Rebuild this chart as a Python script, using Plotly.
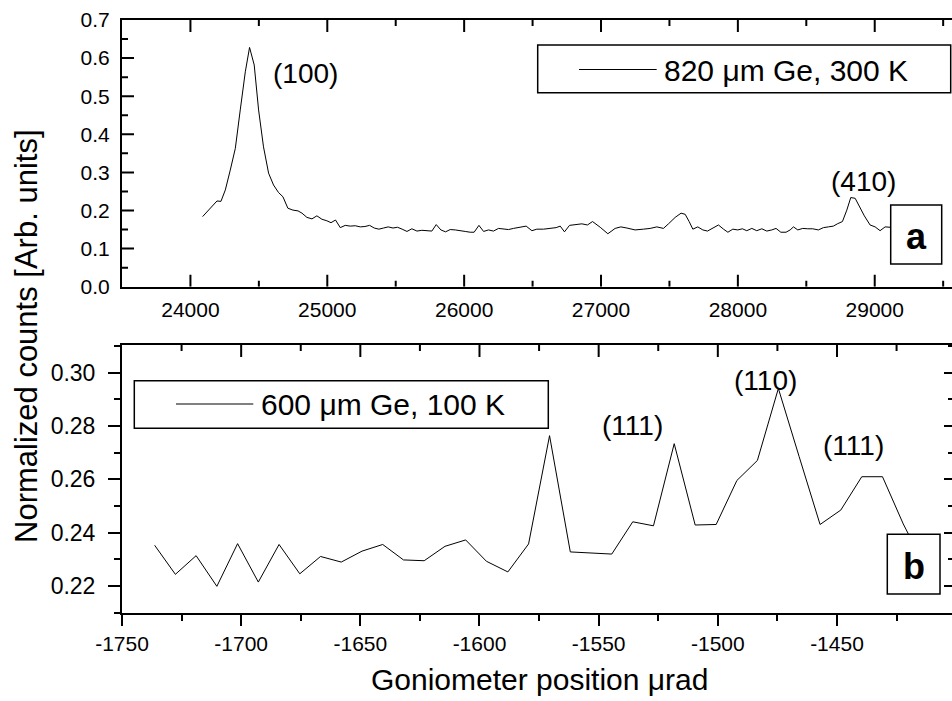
import plotly.graph_objects as go

# ---------------- data ----------------
top_x = [24089, 24145, 24194, 24223, 24255, 24291, 24328, 24364, 24401, 24432,
         24466, 24498, 24534, 24571, 24607, 24644, 24676, 24712, 24749, 24786,
         24815, 24851, 24888, 24924, 24961, 24997, 25027, 25060, 25095, 25131,
         25168, 25204, 25241, 25275, 25309, 25343, 25377, 25411, 25445, 25480,
         25513, 25547, 25582, 25618, 25655, 25691, 25728, 25764, 25796, 25830,
         25864, 25898, 25935, 25971, 26008, 26044, 26073, 26108, 26142, 26178,
         26214, 26251, 26287, 26324, 26360, 26395, 26453, 26495, 26531, 26580,
         26628, 26672, 26702, 26733, 26770, 26811, 26860, 26901, 26938, 26994,
         27050, 27103, 27145, 27189, 27249, 27310, 27359, 27408, 27456, 27493,
         27542, 27585, 27615, 27644, 27671, 27707, 27744, 27778, 27822, 27858,
         27895, 27927, 27963, 27999, 28033, 28065, 28102, 28138, 28175, 28211,
         28248, 28279, 28314, 28352, 28382, 28406, 28438, 28474, 28511, 28547,
         28588, 28625, 28661, 28698, 28727, 28764, 28796, 28825, 28857, 28888,
         28924, 28966, 29003, 29039, 29076, 29112, 29150]
top_y = [0.184, 0.206, 0.225, 0.224, 0.254, 0.306, 0.363, 0.464, 0.564, 0.628,
         0.582, 0.464, 0.367, 0.298, 0.267, 0.247, 0.236, 0.206, 0.201, 0.199,
         0.193, 0.182, 0.178, 0.186, 0.177, 0.173, 0.168, 0.175, 0.155, 0.161,
         0.159, 0.160, 0.157, 0.158, 0.161, 0.154, 0.151, 0.154, 0.157, 0.154,
         0.156, 0.151, 0.145, 0.152, 0.146, 0.148, 0.146, 0.146, 0.163, 0.149,
         0.144, 0.150, 0.149, 0.148, 0.145, 0.143, 0.143, 0.161, 0.145, 0.149,
         0.146, 0.153, 0.152, 0.150, 0.153, 0.156, 0.159, 0.147, 0.151, 0.151,
         0.153, 0.155, 0.159, 0.144, 0.161, 0.162, 0.165, 0.162, 0.171, 0.156,
         0.139, 0.153, 0.157, 0.154, 0.149, 0.151, 0.153, 0.157, 0.153, 0.165,
         0.182, 0.193, 0.190, 0.171, 0.151, 0.157, 0.149, 0.146, 0.155, 0.162,
         0.151, 0.143, 0.151, 0.149, 0.152, 0.147, 0.153, 0.147, 0.152, 0.146,
         0.149, 0.153, 0.143, 0.143, 0.149, 0.157, 0.149, 0.153, 0.152, 0.152,
         0.149, 0.155, 0.157, 0.159, 0.165, 0.171, 0.201, 0.234, 0.232, 0.210,
         0.186, 0.162, 0.157, 0.147, 0.157, 0.156, 0.155]

bot_x = [-1736.3, -1727.6, -1718.9, -1710.2, -1701.5, -1692.8, -1684.1, -1675.4,
         -1666.7, -1658.0, -1649.3, -1640.6, -1631.9, -1623.2, -1614.5, -1605.8,
         -1597.1, -1588.1, -1579.4, -1570.6, -1561.9, -1553.3, -1544.5, -1535.7,
         -1527.0, -1518.3, -1509.5, -1500.7, -1492.0, -1483.4, -1474.6, -1465.9,
         -1457.1, -1448.4, -1439.6, -1430.9, -1422.2, -1413.5]
bot_y = [0.2353, 0.2244, 0.2314, 0.2199, 0.2359, 0.2215, 0.2356, 0.2246,
         0.2311, 0.2290, 0.2331, 0.2356, 0.2298, 0.2295, 0.2349, 0.2373,
         0.2293, 0.2253, 0.2358, 0.2764, 0.2328, 0.2323, 0.2320, 0.2441,
         0.2426, 0.2734, 0.2429, 0.2431, 0.2596, 0.2671, 0.2941, 0.2686,
         0.2431, 0.2485, 0.2610, 0.2610, 0.2433, 0.2280]

# tick positions / labels
top_xticks = [24000, 25000, 26000, 27000, 28000, 29000]
top_xminor = [24500, 25500, 26500, 27500, 28500, 29500]
top_yticks = [0.1, 0.2, 0.3, 0.4, 0.5, 0.6]
top_yminor = [0.05, 0.15, 0.25, 0.35, 0.45, 0.55, 0.65]
bot_xticks = [-1750, -1700, -1650, -1600, -1550, -1500, -1450, -1400]
bot_xticktext = ["-1750", "-1700", "-1650", "-1600", "-1550", "-1500", "-1450", "-1400"]
bot_xminor = [-1725, -1675, -1625, -1575, -1525, -1475, -1425]

top_label = "820 \u03bcm Ge, 300 K"
bot_label = "600 \u03bcm Ge, 100 K"
x_title = "Goniometer position \u03bcrad"
y_title = "Normalized counts [Arb. units]"
peak_labels = ["(100)", "(410)", "(111)", "(110)", "(111)"]

# ---------------- layout geometry ----------------
W, H = 952, 701
L, R, T, B = 122, 0, 20, 88
PW, PH = W - L - R, H - T - B


def fx(px):
    return (px - L) / PW


def fy(py):
    return (H - B - py) / PH


FONT = "Arial, 'Liberation Sans', sans-serif"
BLACK = "black"

ya_dom = [fy(286.7), 1.0]   # panel a vertical domain
yb_dom = [0.0, fy(345)]     # panel b vertical domain

xr_top = [23500, 23500 + PW / 0.13686]
xr_bot = [-1750, -1750 + PW / 2.3833]
yr_top = [0, 0.7]
yr_bot = [0.2099, 0.3104]

# pixels per data unit in each panel (for tick lengths)
ax_ppu = PW / (xr_top[1] - xr_top[0])
ay_ppu = (ya_dom[1] - ya_dom[0]) * PH / (yr_top[1] - yr_top[0])
by_ppu = (yb_dom[1] - yb_dom[0]) * PH / (yr_bot[1] - yr_bot[0])

fig = go.Figure()
fig.add_trace(go.Scatter(x=top_x, y=top_y, mode="lines", name=top_label,
                         line=dict(color=BLACK, width=1), xaxis="x", yaxis="y",
                         showlegend=False, hoverinfo="skip"))
fig.add_trace(go.Scatter(x=bot_x, y=bot_y, mode="lines", name=bot_label,
                         line=dict(color=BLACK, width=1), xaxis="x2", yaxis="y2",
                         showlegend=False, hoverinfo="skip"))
# empty trace so the right-hand tick-only axis of panel b is drawn
fig.add_trace(go.Scatter(x=[None], y=[None], mode="lines", xaxis="x2", yaxis="y3",
                         showlegend=False, hoverinfo="skip"))


# inward-pointing frame ticks, built from the tick lists in data units
def tick_trace(xa, ya, xs, ys):
    fig.add_trace(go.Scatter(x=xs, y=ys, mode="lines", xaxis=xa, yaxis=ya,
                             line=dict(color=BLACK, width=2), showlegend=False,
                             hoverinfo="skip", cliponaxis=False))


xs, ys = [], []
for vals, ln in [(top_xticks, 12), (top_xminor, 6)]:
    d = ln / ay_ppu
    for v in vals:
        xs += [v, v, None, v, v, None]
        ys += [yr_top[0], yr_top[0] + d, None, yr_top[1], yr_top[1] - d, None]
for vals, ln in [(top_yticks, 12), (top_yminor, 6)]:
    d = ln / ax_ppu
    for v in vals:
        xs += [xr_top[0], xr_top[0] + d, None]
        ys += [v, v, None]
tick_trace("x", "y", xs, ys)

xs, ys = [], []
for vals, ln in [([v for v in bot_xticks[1:] if v < xr_bot[1]], 12), (bot_xminor, 6)]:
    d = ln / by_ppu
    for v in vals:
        xs += [v, v, None]
        ys += [yr_bot[1], yr_bot[1] - d, None]
tick_trace("x2", "y2", xs, ys)


def tf(size):
    return dict(family=FONT, size=size, color=BLACK)


base = dict(showgrid=False, zeroline=False, tickcolor=BLACK, tickwidth=2, automargin=False)
lined = dict(showline=True, linecolor=BLACK, linewidth=2, **base)


def minor(dt, side, ln):
    return dict(dtick=dt, tick0=0, ticks=side, ticklen=ln, tickwidth=2, tickcolor=BLACK)


fig.update_layout(
    width=W, height=H,
    margin=dict(l=L, r=R, t=T, b=B, pad=0),
    paper_bgcolor="white", plot_bgcolor="rgba(0,0,0,0)",
    font=dict(family=FONT, color=BLACK),
    # ---- panel a ----
    xaxis=dict(domain=[0, 1], anchor="y", range=xr_top, mirror=True,
               tickmode="array", tickvals=top_xticks, ticktext=[str(v) for v in top_xticks],
               ticks="", tickfont=tf(21), ticklabelstandoff=3, **lined),
    yaxis=dict(domain=ya_dom, anchor="x", range=yr_top,
               tick0=0, dtick=0.1, tickformat=".1f", ticks="",
               tickfont=tf(21), ticklabelstandoff=6, **lined),
    # ---- panel b ----
    xaxis2=dict(domain=[0, 1], anchor="y2", range=xr_bot, mirror=True,
                tickmode="array", tickvals=bot_xticks, ticktext=bot_xticktext,
                ticks="outside", ticklen=11, tickfont=tf(21),
                minor=minor(25, "outside", 6), **lined),
    yaxis2=dict(domain=yb_dom, anchor="x2", range=yr_bot,
                tick0=0, dtick=0.02, tickformat=".2f", ticks="outside", ticklen=12,
                tickfont=tf(23), ticklabelstandoff=8,
                minor=minor(0.01, "outside", 6), **lined),
    yaxis3=dict(overlaying="y2", anchor="x2", side="right", range=yr_bot,
                tick0=0, dtick=0.02, ticks="inside", ticklen=8, showline=False,
                showticklabels=False, minor=minor(0.01, "inside", 4), **base),
)

shapes = []
annotations = []


# legend boxes (drawn manually so the line sample matches)
def legend(x0, x1, y0, y1, lx0, lx1, ly, tx, text):
    shapes.append(dict(type="rect", xref="paper", yref="paper",
                       x0=fx(x0), x1=fx(x1), y0=fy(y1), y1=fy(y0),
                       line=dict(color=BLACK, width=1.5), fillcolor="white", layer="above"))
    shapes.append(dict(type="line", xref="paper", yref="paper",
                       x0=fx(lx0), x1=fx(lx1), y0=fy(ly), y1=fy(ly),
                       line=dict(color=BLACK, width=1), layer="above"))
    annotations.append(dict(xref="paper", yref="paper", x=fx(tx), y=fy(ly + 1),
                            xanchor="left", yanchor="middle", showarrow=False, text=text,
                            font=tf(30)))


legend(537.7, 950.7, 45, 92.7, 579, 656.7, 69.5, 662, top_label)
legend(134.3, 548.3, 380.7, 428.3, 176, 253.3, 404, 259, bot_label)


# panel letters
def letter(x0, x1, y0, y1, text):
    shapes.append(dict(type="rect", xref="paper", yref="paper",
                       x0=fx(x0), x1=fx(x1), y0=fy(y1), y1=fy(y0),
                       line=dict(color=BLACK, width=1.5), fillcolor="white", layer="above"))
    annotations.append(dict(xref="paper", yref="paper", x=fx((x0 + x1) / 2),
                            y=fy((y0 + y1) / 2 + 2), xanchor="center", yanchor="middle",
                            showarrow=False, text="<b>%s</b>" % text, font=tf(36)))


letter(890.7, 941.7, 205, 264, "a")
letter(887.3, 940, 534.3, 594, "b")

# peak labels
peak_pos = [(305, 73), (863, 181), (632, 425), (765, 380), (853, 445)]
for (px, py), t in zip(peak_pos, peak_labels):
    annotations.append(dict(xref="paper", yref="paper", x=fx(px), y=fy(py),
                            xanchor="center", yanchor="middle", showarrow=False, text=t,
                            font=tf(28)))

# axis titles
annotations.append(dict(xref="paper", yref="paper", x=fx(539), y=fy(679),
                        xanchor="center", yanchor="middle", showarrow=False, text=x_title,
                        font=tf(30)))
annotations.append(dict(xref="paper", yref="paper", x=fx(26), y=fy(336),
                        xanchor="center", yanchor="middle", showarrow=False, text=y_title,
                        textangle=-90, font=tf(31)))

fig.update_layout(shapes=shapes, annotations=annotations)
fig.write_html(
    "out.html",
    config={"displayModeBar": False, "staticPlot": True},
    post_script="document.body.style.margin='0';document.body.style.overflow='hidden';",
)
